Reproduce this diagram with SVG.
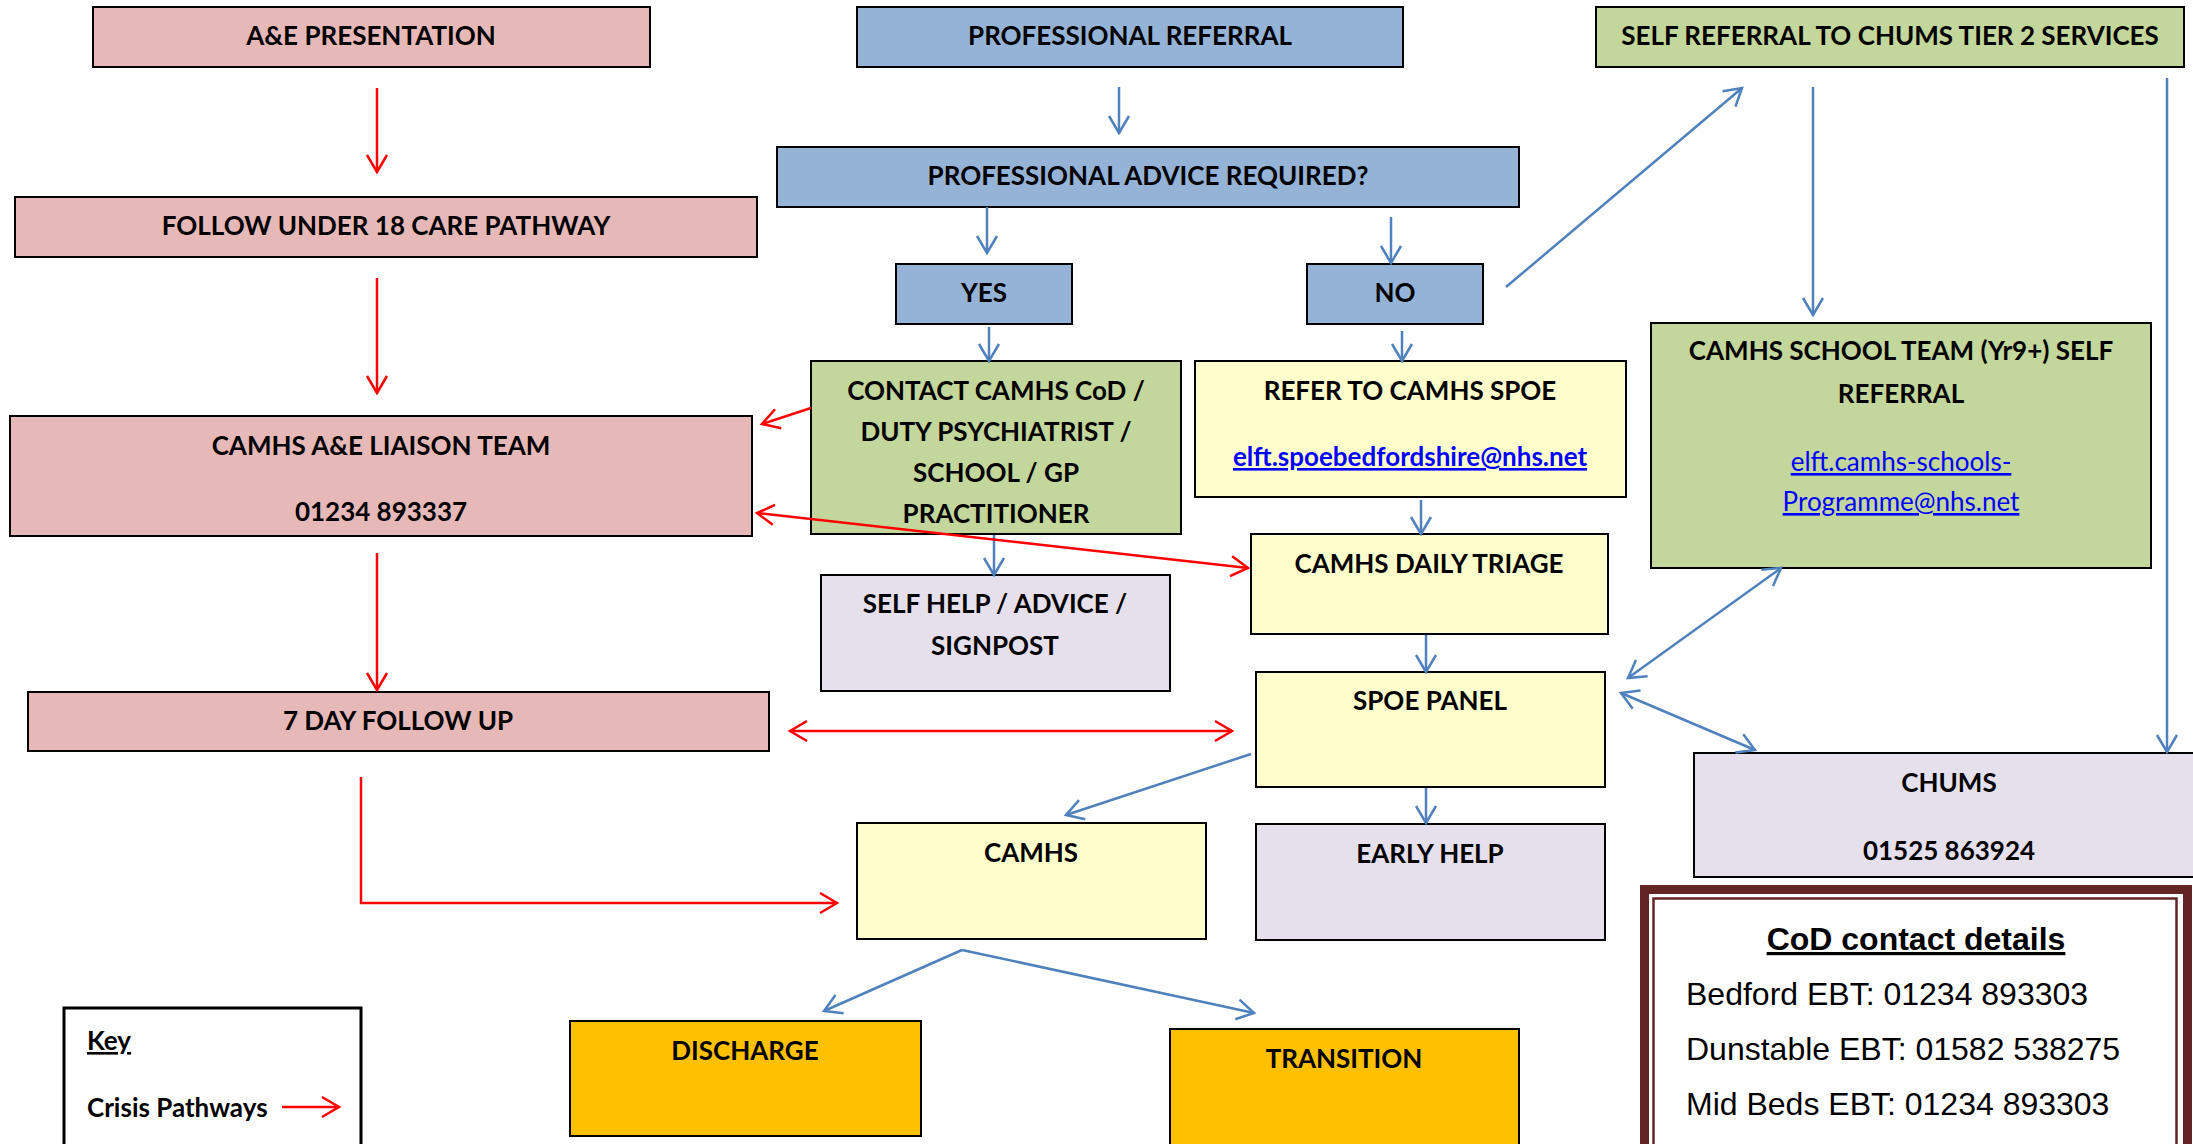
<svg xmlns="http://www.w3.org/2000/svg" width="2193" height="1144" viewBox="0 0 2193 1144">
<style>
.box{stroke:#000;stroke-width:2}
.pink{fill:#E6B9B8}
.blue{fill:#95B3D7}
.green{fill:#C3D69B}
.yellow{fill:#FFFFCC}
.lav{fill:#E5E0EC}
.orange{fill:#FFC000}
text{font-family:Lato,'Liberation Sans',sans-serif;font-size:26px;font-weight:bold;fill:#000}
.c{text-anchor:middle}
.link{fill:#0000FF;text-decoration:underline}
.reg{font-weight:normal}
.ul{text-decoration:underline}
.arial{font-family:'Liberation Sans',Arial,sans-serif;font-size:32px;font-weight:normal}
.bl{stroke:#4F81BD;stroke-width:2.5;fill:none}
.rd{stroke:#FF0000;stroke-width:2.5;fill:none}
</style>
<defs>
<marker id="ab" markerUnits="userSpaceOnUse" markerWidth="24" markerHeight="24" viewBox="0 0 24 24" refX="20" refY="12" orient="auto-start-reverse"><path d="M3,2 L20,12 L3,22" fill="none" stroke="#4F81BD" stroke-width="2.5"/></marker>
<marker id="ar" markerUnits="userSpaceOnUse" markerWidth="24" markerHeight="24" viewBox="0 0 24 24" refX="20" refY="12" orient="auto-start-reverse"><path d="M3,2 L20,12 L3,22" fill="none" stroke="#FF0000" stroke-width="2.5"/></marker>
</defs>
<rect width="2193" height="1144" fill="#fff"/>
<g id="ae"><rect class="box pink" x="93" y="7" width="557" height="60"/><text class="c" x="371" y="45">A&amp;E PRESENTATION</text></g>
<g id="profRef"><rect class="box blue" x="857" y="7" width="546" height="60"/><text class="c" x="1130" y="45">PROFESSIONAL REFERRAL</text></g>
<g id="selfRef"><rect class="box green" x="1596" y="7" width="588" height="60"/><text class="c" x="1890" y="45">SELF REFERRAL TO CHUMS TIER 2 SERVICES</text></g>
<g id="follow"><rect class="box pink" x="15" y="197" width="742" height="60"/><text class="c" x="386" y="235">FOLLOW UNDER 18 CARE PATHWAY</text></g>
<g id="advice"><rect class="box blue" x="777" y="147" width="742" height="60"/><text class="c" x="1148" y="185">PROFESSIONAL ADVICE REQUIRED?</text></g>
<g id="yes"><rect class="box blue" x="896" y="264" width="176" height="60"/><text class="c" x="984" y="302">YES</text></g>
<g id="no"><rect class="box blue" x="1307" y="264" width="176" height="60"/><text class="c" x="1395" y="302">NO</text></g>
<g id="contact"><rect class="box green" x="811" y="361" width="370" height="173"/>
<text class="c" x="996" y="400">CONTACT CAMHS CoD /</text>
<text class="c" x="996" y="441">DUTY PSYCHIATRIST /</text>
<text class="c" x="996" y="482">SCHOOL / GP</text>
<text class="c" x="996" y="523">PRACTITIONER</text></g>
<g id="refer"><rect class="box yellow" x="1195" y="361" width="431" height="136"/>
<text class="c" x="1410" y="400">REFER TO CAMHS SPOE</text>
<text class="c link" x="1410" y="466">elft.spoebedfordshire@nhs.net</text></g>
<g id="school"><rect class="box green" x="1651" y="323" width="500" height="245"/>
<text class="c" x="1901" y="360">CAMHS SCHOOL TEAM (Yr9+) SELF</text>
<text class="c" x="1901" y="403">REFERRAL</text>
<text class="c link reg" x="1901" y="471">elft.camhs-schools-</text>
<text class="c link reg" x="1901" y="511">Programme@nhs.net</text></g>
<g id="liaison"><rect class="box pink" x="10" y="416" width="742" height="120"/>
<text class="c" x="381" y="455">CAMHS A&amp;E LIAISON TEAM</text>
<text class="c" x="381" y="521">01234 893337</text></g>
<g id="selfhelp"><rect class="box lav" x="821" y="575" width="349" height="116"/>
<text class="c" x="995" y="613">SELF HELP / ADVICE /</text>
<text class="c" x="995" y="655">SIGNPOST</text></g>
<g id="triage"><rect class="box yellow" x="1251" y="534" width="357" height="100"/><text class="c" x="1429" y="573">CAMHS DAILY TRIAGE</text></g>
<g id="spoe"><rect class="box yellow" x="1256" y="672" width="349" height="115"/><text class="c" x="1430" y="710">SPOE PANEL</text></g>
<g id="day7"><rect class="box pink" x="28" y="692" width="741" height="59"/><text class="c" x="398" y="730">7 DAY FOLLOW UP</text></g>
<g id="chums"><rect class="box lav" x="1694" y="753" width="510" height="124"/>
<text class="c" x="1949" y="792">CHUMS</text>
<text class="c" x="1949" y="860">01525 863924</text></g>
<g id="camhs"><rect class="box yellow" x="857" y="823" width="349" height="116"/><text class="c" x="1031" y="862">CAMHS</text></g>
<g id="earlyhelp"><rect class="box lav" x="1256" y="824" width="349" height="116"/><text class="c" x="1430" y="863">EARLY HELP</text></g>
<g id="discharge"><rect class="box orange" x="570" y="1021" width="351" height="115"/><text class="c" x="745" y="1060">DISCHARGE</text></g>
<g id="transition"><rect class="box orange" x="1170" y="1029" width="349" height="130"/><text class="c" x="1344" y="1068">TRANSITION</text></g>
<g id="key"><rect x="64" y="1008" width="297" height="150" fill="#fff" stroke="#000" stroke-width="3"/>
<text class="ul" x="87" y="1050">Key</text>
<text x="87" y="1117">Crisis Pathways</text>
<line class="rd" x1="282" y1="1107" x2="339" y2="1107" marker-end="url(#ar)"/></g>
<g id="cod">
<rect x="1644.5" y="889.5" width="543" height="280" fill="#fff" stroke="#632523" stroke-width="9"/>
<rect x="1653.5" y="898.5" width="523" height="270" fill="none" stroke="#632523" stroke-width="2.5"/>
<text class="c arial ul" style="font-weight:bold" x="1916" y="950">CoD contact details</text>
<text class="arial" x="1686" y="1005">Bedford EBT: 01234 893303</text>
<text class="arial" x="1686" y="1060">Dunstable EBT: 01582 538275</text>
<text class="arial" x="1686" y="1115">Mid Beds EBT: 01234 893303</text>
</g>
<g id="connectors">
<line class="bl" x1="1119" y1="87" x2="1119" y2="133" marker-end="url(#ab)"/>
<line class="bl" x1="987" y1="207" x2="987" y2="253" marker-end="url(#ab)"/>
<line class="bl" x1="1391" y1="217" x2="1391" y2="263" marker-end="url(#ab)"/>
<line class="bl" x1="989" y1="327" x2="989" y2="361" marker-end="url(#ab)"/>
<line class="bl" x1="1402" y1="331" x2="1402" y2="361" marker-end="url(#ab)"/>
<line class="bl" x1="1506" y1="287" x2="1742" y2="88" marker-end="url(#ab)"/>
<line class="bl" x1="1813" y1="87" x2="1813" y2="315" marker-end="url(#ab)"/>
<line class="bl" x1="2167" y1="78" x2="2167" y2="752" marker-end="url(#ab)"/>
<line class="bl" x1="994" y1="535" x2="994" y2="575" marker-end="url(#ab)"/>
<line class="bl" x1="1421" y1="500" x2="1421" y2="534" marker-end="url(#ab)"/>
<line class="bl" x1="1426" y1="635" x2="1426" y2="672" marker-end="url(#ab)"/>
<line class="bl" x1="1781" y1="568" x2="1628" y2="678" marker-start="url(#ab)" marker-end="url(#ab)"/>
<line class="bl" x1="1621" y1="693" x2="1755" y2="750" marker-start="url(#ab)" marker-end="url(#ab)"/>
<line class="bl" x1="1251" y1="754" x2="1066" y2="815" marker-end="url(#ab)"/>
<line class="bl" x1="1426" y1="788" x2="1426" y2="823" marker-end="url(#ab)"/>
<line class="bl" x1="962" y1="950" x2="824" y2="1011" marker-end="url(#ab)"/>
<line class="bl" x1="962" y1="950" x2="1254" y2="1013" marker-end="url(#ab)"/>
<line class="rd" x1="377" y1="88" x2="377" y2="172" marker-end="url(#ar)"/>
<line class="rd" x1="377" y1="278" x2="377" y2="393" marker-end="url(#ar)"/>
<line class="rd" x1="377" y1="553" x2="377" y2="690" marker-end="url(#ar)"/>
<line class="rd" x1="811" y1="408" x2="762" y2="424" marker-end="url(#ar)"/>
<line class="rd" x1="757" y1="513" x2="1248" y2="568" marker-start="url(#ar)" marker-end="url(#ar)"/>
<line class="rd" x1="790" y1="731" x2="1232" y2="731" marker-start="url(#ar)" marker-end="url(#ar)"/>
<polyline class="rd" points="361,777 361,903 837,903" marker-end="url(#ar)"/>
</g>
</svg>
